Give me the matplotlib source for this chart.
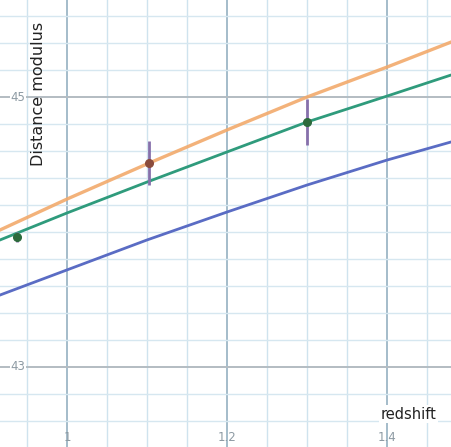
import matplotlib.pyplot as plt
import matplotlib.transforms as mtransforms
import numpy as np

# redshift samples and distance modulus
z_curve = [0.91625, 1.0, 1.1, 1.2, 1.3, 1.4, 1.48]
mu_orange = [44.015, 44.244, 44.504, 44.756, 45.0, 45.222, 45.407]
mu_green = [43.941, 44.141, 44.370, 44.593, 44.815, 45.007, 45.163]
mu_blue = [43.533, 43.719, 43.941, 44.148, 44.348, 44.533, 44.667]

# measured points with their uncertainties
z_obs = [0.9375, 1.1025, 1.30]
mu_obs = [43.963, 44.511, 44.815]
mu_err = [0.04, 0.16, 0.17]
obs_colors = ["#2c6a3c", "#8a4b3c", "#2c6a3c"]

x_ticks = [1.0, 1.2, 1.4]
x_tick_labels = ["1", "1.2", "1.4"]
y_ticks = [43, 45]
y_tick_labels = ["43", "45"]

fig = plt.figure(figsize=(4.51, 4.47), dpi=100)
ax = fig.add_axes([0, 0, 1, 1])
ax.set_xlim(0.91625, 1.48)
ax.set_ylim(42.407, 45.719)
for side in ax.spines.values():
    side.set_visible(False)
ax.set_xticks([])
ax.set_yticks([])

# grid: minor every 0.05 in z and 0.2 in mu, major at the labelled values
for xv in np.arange(0.90, 1.50, 0.05):
    major = any(abs(xv - t) < 1e-6 for t in x_ticks)
    ax.axvline(xv, color="#9db6c6" if major else "#cfe3ee",
               lw=1.3 if major else 1.0, zorder=0)
for yv in np.arange(42.4, 45.8, 0.2):
    major = any(abs(yv - t) < 1e-6 for t in y_ticks)
    ax.axhline(yv, color="#b3bcc2" if major else "#d6e7f0",
               lw=1.4 if major else 1.0, zorder=0)

ax.plot(z_curve, mu_blue, color="#5a6cc4", lw=2.0, zorder=2)
ax.plot(z_curve, mu_green, color="#2f9b7c", lw=2.0, zorder=3)
ax.plot(z_curve, mu_orange, color="#f2aa6c", lw=2.4, alpha=0.9, zorder=3)

for z, mu, err, c in zip(z_obs, mu_obs, mu_err, obs_colors):
    ax.errorbar(z, mu, yerr=err, fmt="o", color=c, ms=5.5,
                ecolor="#8670ab", elinewidth=2, capsize=0, zorder=4)

bottom = mtransforms.blended_transform_factory(ax.transData, ax.transAxes)
for xv, lab in zip(x_ticks, x_tick_labels):
    ax.text(xv, 0.022, lab, transform=bottom, ha="center", va="center",
            fontsize=8.5, color="#8d9aa3")
left = mtransforms.blended_transform_factory(ax.transAxes, ax.transData)
for yv, lab in zip(y_ticks, y_tick_labels):
    ax.text(0.04, yv, lab, transform=left, ha="center", va="center",
            fontsize=8.5, color="#8d9aa3",
            bbox=dict(facecolor="white", edgecolor="none", pad=0.5))

ax.text(0.086, 0.79, "Distance modulus", transform=ax.transAxes,
        rotation=90, ha="center", va="center", fontsize=11.5, color="#222222")
ax.text(0.905, 0.073, "redshift", transform=ax.transAxes,
        ha="center", va="center", fontsize=10.5, color="#222222",
        bbox=dict(facecolor="white", edgecolor="none", pad=1.0))

fig.savefig("out.png", dpi=100)
